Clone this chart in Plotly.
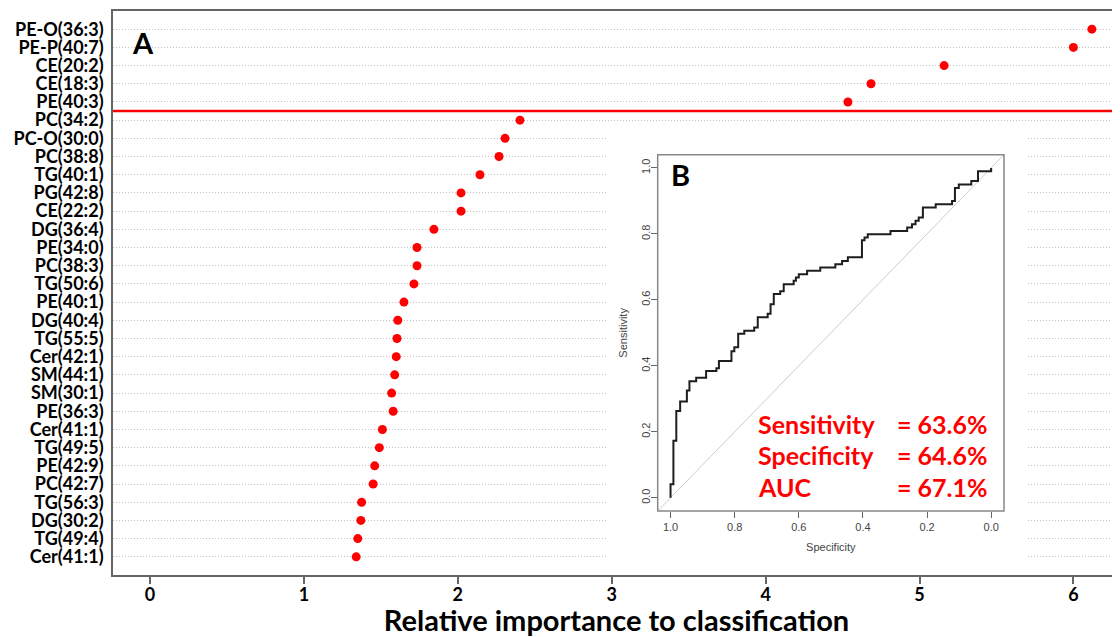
import plotly.graph_objects as go

# ---------------- data ----------------
lipids = ["PE-O(36:3)", "PE-P(40:7)", "CE(20:2)", "CE(18:3)", "PE(40:3)",
          "PC(34:2)", "PC-O(30:0)", "PC(38:8)", "TG(40:1)", "PG(42:8)",
          "CE(22:2)", "DG(36:4)", "PE(34:0)", "PC(38:3)", "TG(50:6)",
          "PE(40:1)", "DG(40:4)", "TG(55:5)", "Cer(42:1)", "SM(44:1)",
          "SM(30:1)", "PE(36:3)", "Cer(41:1)", "TG(49:5)", "PE(42:9)",
          "PC(42:7)", "TG(56:3)", "DG(30:2)", "TG(49:4)", "Cer(41:1)"]
importance = [6.12, 6.00, 5.16, 4.685, 4.535,
              2.404, 2.307, 2.268, 2.144, 2.021,
              2.021, 1.845, 1.735, 1.735, 1.715,
              1.65, 1.61, 1.605, 1.60, 1.59,
              1.57, 1.58, 1.51, 1.49, 1.46,
              1.45, 1.375, 1.37, 1.35, 1.34]
n_selected = 5  # features above the red cut-off line

x_ticks = [0, 1, 2, 3, 4, 5, 6]

roc_specificity = [1.000, 0.991, 0.982, 0.970, 0.949, 0.941, 0.920, 0.889, 0.857, 0.849,
                   0.810, 0.801, 0.789, 0.770, 0.739, 0.728, 0.697, 0.688, 0.678, 0.658,
                   0.647, 0.616, 0.609, 0.600, 0.574, 0.533, 0.486, 0.465, 0.447, 0.403,
                   0.395, 0.385, 0.314, 0.262, 0.247, 0.236, 0.226, 0.213, 0.173, 0.122,
                   0.113, 0.101, 0.062, 0.041, 0.000, 0.000]
roc_sensitivity = [0.000, 0.041, 0.173, 0.263, 0.292, 0.325, 0.353, 0.364, 0.384, 0.393,
                   0.415, 0.444, 0.456, 0.497, 0.506, 0.516, 0.547, 0.558, 0.587, 0.618,
                   0.626, 0.647, 0.658, 0.668, 0.678, 0.688, 0.698, 0.708, 0.718, 0.729,
                   0.781, 0.789, 0.799, 0.809, 0.819, 0.829, 0.840, 0.850, 0.880, 0.890,
                   0.900, 0.939, 0.950, 0.960, 0.990, 1.000]
roc_ticks = [0.0, 0.2, 0.4, 0.6, 0.8, 1.0]

stat_names = ["Sensitivity", "Specificity", "AUC"]
stat_values = ["= 63.6%", "= 64.6%", "= 67.1%"]

# ---------------- layout geometry (page pixels) ----------------
PAGE_W, PAGE_H = 1120, 637
BODY = 8                      # default page margin around the plot div
W, H = PAGE_W - BODY, PAGE_H - BODY
PLOT_L, PLOT_T, PLOT_B, PLOT_R = 113, 11, 575, 1120   # page px of main plot area
ML, MT, MR = PLOT_L - BODY, PLOT_T - BODY, PAGE_W - PLOT_R
MB = PAGE_H - PLOT_B
PW, PH = PLOT_R - PLOT_L, PLOT_B - PLOT_T
X_RANGE = [-0.2404, 6.3028]


def fx(px):
    return (px - PLOT_L) / PW


def fy(py):
    return (PLOT_B - py) / PH


def dx(px):
    return X_RANGE[0] + fx(px) * (X_RANGE[1] - X_RANGE[0])


n = len(lipids)
ypos = [n - 1 - i for i in range(n)]
Y_RANGE = [-1, n]


def dy(py):
    return Y_RANGE[0] + fy(py) * (Y_RANGE[1] - Y_RANGE[0])


MAIN_FONT = "Lato"
RED = "#ff0000"

fig = go.Figure()

fig.add_trace(go.Scatter(
    x=importance, y=ypos, mode="markers",
    marker=dict(color=RED, size=9, line=dict(width=0)),
    xaxis="x", yaxis="y", showlegend=False, hoverinfo="x+y"))

fig.add_trace(go.Scatter(
    x=roc_specificity, y=roc_sensitivity, mode="lines",
    line=dict(color="#1e1e1e", width=2, shape="vh"),
    xaxis="x2", yaxis="y2", showlegend=False))

roc_x_range = [1.04, -0.04]
roc_y_range = [-0.04, 1.04]

shapes = [
    # white panel behind the inset (hides the dotted grid)
    dict(type="rect", xref="x", yref="y", layer="between",
         x0=dx(608), x1=dx(1028), y0=Y_RANGE[0], y1=dy(128),
         fillcolor="white", line=dict(width=0)),
    # red cut-off line
    dict(type="line", xref="paper", yref="y", layer="above",
         x0=0, x1=1, y0=n - n_selected - 0.5, y1=n - n_selected - 0.5,
         line=dict(color=RED, width=2.5)),
    # chance diagonal of ROC
    dict(type="line", xref="x2", yref="y2", layer="below",
         x0=roc_x_range[0], y0=1 - roc_x_range[0],
         x1=roc_x_range[1], y1=1 - roc_x_range[1],
         line=dict(color="#cccccc", width=1)),
    # ROC box
    dict(type="rect", xref="x2 domain", yref="y2 domain", layer="above",
         x0=0, x1=1, y0=0, y1=1, line=dict(color="#888888", width=1.5)),
]

annotations = [
    dict(text="<b>A</b>", xref="paper", yref="paper", x=fx(143), y=fy(42),
         xanchor="center", yanchor="middle",
         showarrow=False, font=dict(family=MAIN_FONT, size=29, color="black")),
    dict(text="<b>B</b>", xref="paper", yref="paper", x=fx(680), y=fy(174),
         xanchor="center", yanchor="middle",
         showarrow=False, font=dict(family=MAIN_FONT, size=29, color="black")),
]
stat_rows_py = [424, 455, 487]
for name, val, py in zip(stat_names, stat_values, stat_rows_py):
    annotations.append(dict(text=f"<b>{name}</b>", xref="paper", yref="paper",
                            x=fx(756), y=fy(py), xanchor="left", yanchor="middle",
                            showarrow=False, font=dict(family=MAIN_FONT, size=25, color=RED)))
    annotations.append(dict(text=f"<b>{val}</b>", xref="paper", yref="paper",
                            x=fx(895), y=fy(py), xanchor="left", yanchor="middle",
                            showarrow=False, font=dict(family=MAIN_FONT, size=25, color=RED)))

inset_tick_font = dict(family="Liberation Sans", size=11, color="#444444")

fig.update_layout(
    width=W, height=H,
    margin=dict(l=ML, r=MR, t=MT, b=MB, pad=0, autoexpand=False),
    paper_bgcolor="white", plot_bgcolor="white",
    showlegend=False,
    xaxis=dict(domain=[0, 1], range=X_RANGE, anchor="y", automargin=False,
               tickvals=x_ticks, ticks="outside", ticklen=7, tickwidth=1.5,
               tickcolor="#666666", showline=True, linecolor="#666666", linewidth=1.5,
               mirror=True, showgrid=False, zeroline=False, ticklabelstandoff=-4,
               tickfont=dict(family=MAIN_FONT, size=18, color="black", weight="bold"),
               title=dict(text="Relative importance to classification", standoff=8,
                          font=dict(family=MAIN_FONT, size=29, color="black", weight="bold"))),
    yaxis=dict(domain=[0, 1], range=Y_RANGE, anchor="x", automargin=False,
               tickvals=ypos, ticktext=lipids, ticks="",
               showgrid=True, gridcolor="#c4c4c4", gridwidth=1, griddash="1px,2px",
               showline=True, linecolor="#666666", linewidth=1.5, mirror=False,
               zeroline=False, ticklabelstandoff=4,
               tickfont=dict(family=MAIN_FONT, size=18, color="black", weight="bold")),
    xaxis2=dict(domain=[fx(657.7), fx(1004)], range=roc_x_range, anchor="y2",
                automargin=False,
                tickvals=roc_ticks, tickformat=".1f", ticks="outside", ticklen=6,
                tickcolor="#666666", showline=False,
                showgrid=False, zeroline=False, tickfont=inset_tick_font,
                title=dict(text="Specificity", standoff=11, font=inset_tick_font)),
    yaxis2=dict(domain=[fy(511), fy(154.7)], range=roc_y_range, anchor="x2",
                automargin=False,
                tickvals=roc_ticks, tickformat=".1f", ticks="outside", ticklen=6,
                tickangle=-90, ticklabelstandoff=-4,
                tickcolor="#666666", showline=False,
                showgrid=False, zeroline=False, tickfont=inset_tick_font,
                title=dict(text="Sensitivity", standoff=10, font=inset_tick_font)),
    shapes=shapes,
    annotations=annotations,
)

fig.write_html("out.html")
